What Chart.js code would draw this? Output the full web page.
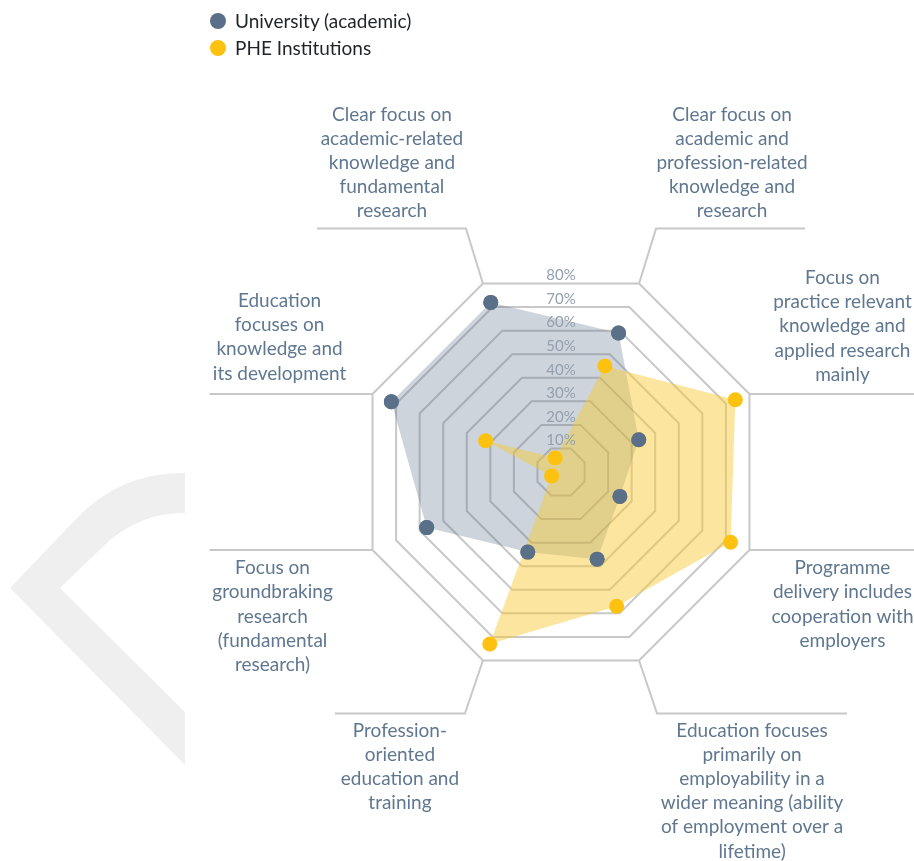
<!DOCTYPE html>
<html>
<head>
<meta charset="utf-8">
<script src="https://cdn.jsdelivr.net/npm/chart.js@4"></script>
<style>
  html, body { margin: 0; padding: 0; background: #fff; }
  #wrap { position: relative; width: 914px; height: 861px; }
  #legend { position: absolute; left: 210px; top: 8px; font-family: Lato, sans-serif; font-size: 19px; color: #1e2428; }
  #legend div { height: 27px; line-height: 26px; }
  #legend span.dot { display: inline-block; width: 16px; height: 16px; border-radius: 50%; vertical-align: -1px; margin-right: 9px; }
</style>
</head>
<body>
<div id="wrap">
  <canvas id="radarCanvas"></canvas>
  <div id="legend"></div>
</div>
<script>
const categories = [
    ['Clear focus on', 'academic-related', 'knowledge and', 'fundamental', 'research'],
    ['Clear focus on', 'academic and', 'profession-related', 'knowledge and', 'research'],
    ['Focus on', 'practice relevant', 'knowledge and', 'applied research', 'mainly'],
    ['Programme', 'delivery includes', 'cooperation with', 'employers'],
    ['Education focuses', 'primarily on', 'employability in a', 'wider meaning (ability', 'of employment over a', 'lifetime)'],
    ['Profession-', 'oriented', 'education and', 'training'],
    ['Focus on', 'groundbraking', 'research', '(fundamental', 'research)'],
    ['Education', 'focuses on', 'knowledge and', 'its development']
];
const seriesNames = ['University (academic)', 'PHE Institutions'];
const universityValues = [72, 59, 33, 25, 37, 34, 57, 72];
const pheValues = [6, 45, 74, 72, 57, 73, 4, 32];
const tickValues = [10, 20, 30, 40, 50, 60, 70, 80];

// leader line points and label anchors, offsets from each outer vertex
const labelLayout = [
    { line: [[0, 0], [-17, -55], [-166, -55]], dx: -91, dy: -169 },
    { line: [[0, 0], [17, -55], [166, -55]], dx: 93, dy: -169 },
    { line: [[0, 0], [165, 0]], dx: 93, dy: -116 },
    { line: [[0, 0], [165, 0]], dx: 93, dy: 18 },
    { line: [[0, 0], [18, 53], [208, 53]], dx: 113, dy: 70 },
    { line: [[0, 0], [-18, 53], [-148, 53]], dx: -83, dy: 70 },
    { line: [[0, 0], [-163, 0]], dx: -100, dy: 18 },
    { line: [[0, 0], [-163, 0]], dx: -93, dy: -93 }
];

const colors = ['#5a7088', '#fdc20f'];
const fills = ['rgba(90,112,136,0.30)', 'rgba(247,200,50,0.47)'];

document.getElementById('legend').innerHTML = seriesNames.map((n, i) =>
    '<div><span class="dot" style="background:' + colors[i] + '"></span>' + n + '</div>').join('');

const watermark = {
    id: 'watermark',
    beforeDraw(chart) {
        const ctx = chart.ctx;
        ctx.save();
        ctx.fillStyle = '#efefef';
        ctx.beginPath();
        ctx.moveTo(185, 473);
        ctx.quadraticCurveTo(120, 472, 75, 520);
        ctx.lineTo(10, 588);
        ctx.lineTo(185, 765);
        ctx.lineTo(185, 712);
        ctx.lineTo(60, 588);
        ctx.lineTo(110, 540);
        ctx.quadraticCurveTo(145, 512, 185, 513);
        ctx.closePath();
        ctx.fill();
        ctx.restore();
    }
};

const labelsAndLeaders = {
    id: 'labelsAndLeaders',
    afterDatasetsDraw(chart) {
        const ctx = chart.ctx;
        const r = chart.scales.r;
        // keep the university points on top of the PHE fill
        chart.getDatasetMeta(0).data.forEach(pt => pt.draw(ctx, chart.chartArea));
        ctx.save();
        ctx.font = '15px Lato';
        ctx.fillStyle = '#94a0ad';
        ctx.textAlign = 'center';
        ctx.textBaseline = 'middle';
        tickValues.forEach(v => {
            const d = r.getDistanceFromCenterForValue(v) * Math.cos(Math.PI / 8);
            ctx.fillText(v + '%', r.xCenter, r.yCenter - d - 8);
        });
        ctx.restore();
    },
    afterDraw(chart) {
        const ctx = chart.ctx;
        const r = chart.scales.r;
        ctx.save();
        ctx.strokeStyle = '#c8c8c8';
        ctx.lineWidth = 2;
        ctx.font = '19px Lato';
        ctx.fillStyle = '#5f7790';
        ctx.textAlign = 'center';
        ctx.textBaseline = 'middle';
        categories.forEach((lines, i) => {
            const p = r.getPointPosition(i, r.drawingArea);
            const lay = labelLayout[i];
            ctx.beginPath();
            lay.line.forEach(([x, y], k) => {
                if (k === 0) ctx.moveTo(p.x + x, p.y + y); else ctx.lineTo(p.x + x, p.y + y);
            });
            ctx.stroke();
            lines.forEach((t, k) => ctx.fillText(t, p.x + lay.dx, p.y + lay.dy + k * 24.2));
        });
        ctx.restore();
    }
};

new Chart(document.getElementById('radarCanvas'), {
    type: 'radar',
    data: {
        labels: categories,
        datasets: [{
            label: seriesNames[0],
            data: universityValues,
            backgroundColor: fills[0],
            borderWidth: 0,
            pointBackgroundColor: colors[0],
            pointBorderWidth: 0,
            pointRadius: 7.5,
            fill: true,
            order: 1
        }, {
            label: seriesNames[1],
            data: pheValues,
            backgroundColor: fills[1],
            borderWidth: 0,
            pointBackgroundColor: colors[1],
            pointBorderWidth: 0,
            pointRadius: 7.5,
            fill: true,
            order: 0
        }]
    },
    options: {
        responsive: true,
        maintainAspectRatio: false,
        animation: false,
        layout: { padding: { left: 357, right: 149, top: 268, bottom: 185 } },
        plugins: { legend: { display: false }, tooltip: { enabled: false } },
        scales: {
            r: {
                min: 0,
                max: 80,
                startAngle: -22.5,
                ticks: { stepSize: 10, display: false },
                grid: { color: '#c8c8c8', lineWidth: 2 },
                angleLines: { display: false },
                pointLabels: { display: false }
            }
        }
    },
    plugins: [watermark, labelsAndLeaders]
});
</script>
</body>
</html>
